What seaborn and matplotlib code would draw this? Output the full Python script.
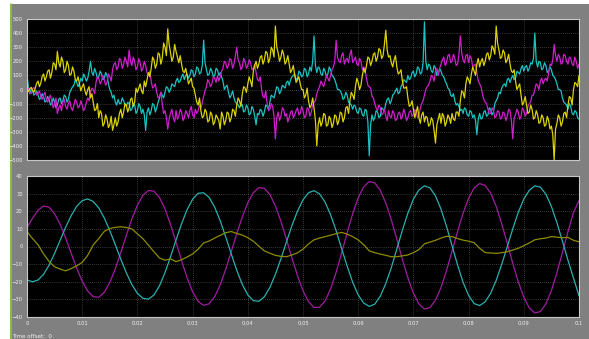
import matplotlib
matplotlib.use("Agg")
import matplotlib.pyplot as plt
import numpy as np
import pandas as pd
import seaborn as sns

# --- data ---
# top panel: noisy phase signals, one value every 0.5 ms (0 .. 0.1 s)
top_yellow = [
    0, 5, -5, 10, 60, 45, 110, 90, 140, 120,
    180, 270, 160, 200, 140, 170, 110, 130, 60, 40,
    20, -10, 0, -60, -90, -140, -200, -170, -240, -210,
    -250, -290, -200, -230, -140, -160, -110, -130, -60, -90,
    -20, 40, -30, 20, 120, 150, 210, 180, 250, 220,
    300, 430, 260, 230, 270, 190, 180, 120, 100, 60,
    20, -40, -110, -150, -190, -160, -220, -180, -230, -200,
    -280, -190, -220, -170, -200, -150, -110, -80, -30, 10,
    40, 60, 130, 200, 180, 240, 210, 260, 220, 280,
    450, 260, 230, 250, 200, 180, 140, 100, 70, 40,
    0, -40, -80, -110, -130, -400, -200, -230, -180, -250,
    -210, -240, -190, -220, -170, -200, -120, -80, -40, 20,
    50, 30, 150, 170, 220, 200, 260, 230, 280, 240,
    420, 230, 190, 210, 160, 120, 60, 10, -60, -110,
    -140, -160, -200, -180, -230, -200, -250, -220, -380, -210,
    -240, -190, -230, -200, -170, -220, -160, -80, -20, 40,
    70, 110, 130, 180, 160, 220, 200, 260, 240, 290,
    450, 280, 230, 260, 210, 180, 120, 60, 20, -40,
    -90, -110, -160, -140, -200, -180, -230, -200, -250, -220,
    -260, -500, -240, -200, -230, -160, -110, -60, 0, 40,
    100,
]
top_magenta = [
    0, -20, 5, -10, -30, -50, -40, -70, -60, -90,
    -100, -170, -110, -90, -120, -100, -130, -110, -90, -120,
    -110, -130, -60, -20, 0, 50, 80, 60, 70, 50,
    90, 140, 190, 160, 210, 180, 200, 280, 170, 200,
    160, 190, 150, 170, 100, 60, 20, -20, -50, -100,
    -150, -280, -170, -200, -150, -190, -160, -200, -170, -150,
    -180, -140, -150, -130, -50, 20, 50, 40, 80, 100,
    90, 150, 190, 170, 210, 180, 300, 190, 160, 200,
    170, 190, 150, 120, 60, 0, -60, -100, -140, -120,
    -350, -160, -190, -140, -170, -200, -150, -180, -130, -170,
    -150, -190, -140, -160, -90, -30, 20, 40, 60, 80,
    100, 160, 350, 200, 240, 180, 220, 250, 190, 230,
    170, 200, 160, 80, 20, -50, -100, -150, -130, -170,
    -190, -150, -200, -170, -210, -160, -190, -170, -200, -150,
    -180, -160, -190, -100, -40, 20, 60, 90, 130, 100,
    180, 230, 190, 250, 200, 220, 180, 380, 210, 240,
    190, 220, 170, 120, 40, -30, -90, -140, -170, -150,
    -190, -160, -200, -170, -190, -150, -350, -180, -160, -190,
    -150, -170, -100, -40, 0, 30, 60, 40, 80, 120,
    170, 320, 200, 230, 190, 240, 180, 220, 170, 200,
    180,
]
top_cyan = [
    100, -30, -10, -30, -40, -60, -50, -80, -70, -100,
    -90, -110, -60, -80, -50, -70, 0, 30, 50, 40,
    60, 90, 80, 200, 100, 120, 90, 110, 80, 100,
    0, -60, -90, -70, -100, -80, -120, -100, -140, -110,
    -150, -120, -140, -290, -130, -150, -110, -130, -60, -40,
    -20, 10, 0, 30, 60, 50, 90, 70, 110, 100,
    130, 110, 150, 120, 350, 140, 110, 130, 100, 140,
    120, 60, 20, -20, -40, -60, -100, -130, -110, -150,
    -130, -170, -140, -250, -180, -150, -160, -120, -90, -50,
    -20, 10, -10, 20, 50, 30, 90, 110, 80, 120,
    100, 140, 110, 130, 380, 120, 150, 100, 130, 110,
    140, 90, 40, 0, -30, -60, -40, -100, -140, -120,
    -170, -140, -190, -150, -470, -180, -200, -160, -190, -140,
    -100, -60, -80, -30, 10, -20, 40, 60, 100, 80,
    130, 110, 150, 120, 480, 140, 170, 120, 150, 110,
    130, 90, 40, 0, -50, -80, -100, -150, -170, -140,
    -190, -160, -180, -320, -170, -200, -150, -180, -140, -160,
    -80, -20, 10, 40, 70, 50, 100, 80, 120, 150,
    130, 170, 150, 180, 400, 160, 190, 150, 170, 130,
    140, 90, 40, 0, -60, -100, -140, -120, -180, -160,
    -210,
]

# samples half way between the ones above (0.25 ms, 0.75 ms, ...)
top_yellow_mid = [
    -15, 15, -20, 45, 20, 95, 60, 130, 80, 190,
    140, 190, 230, 120, 200, 100, 160, 70, 90, -10,
    40, -40, 20, -30, -150, -100, -150, -260, -180, -270,
    -190, -250, -260, -170, -200, -100, -160, -70, -120, 10,
    10, -10, 60, 70, 90, 230, 150, 260, 180, 330,
    240, 320, 200, 320, 230, 240, 130, 150, 40, 80,
    10, -90, -60, -200, -140, -230, -160, -250, -180, -220,
    -160, -250, -160, -230, -140, -190, -60, -120, 20, -20,
    90, 20, 170, 150, 230, 180, 270, 190, 300, 230,
    300, 200, 280, 180, 240, 120, 170, 50, 90, 0,
    -60, 10, -130, -60, -220, -250, -260, -170, -260, -190,
    -270, -180, -250, -160, -230, -130, -170, -20, -70, 80,
    0, 100, 120, 230, 170, 250, 200, 290, 220, 320,
    280, 240, 160, 240, 110, 140, 10, 20, -120, -80,
    -200, -120, -240, -160, -190, -260, -200, -290, -250, -170,
    -170, -260, -180, -240, -210, -160, -190, -10, -60, 90,
    40, 160, 100, 220, 200, 170, 250, 210, 310, 250,
    330, 220, 280, 190, 250, 130, 140, 0, 40, -110,
    -50, -170, -110, -210, -150, -240, -180, -260, -190, -280,
    -320, -280, -180, -260, -170, -200, -50, -110, 50, 20,
]
top_magenta_mid = [
    10, -30, 15, -40, -10, -70, -20, -90, -40, -130,
    -60, -130, -150, -70, -140, -80, -150, -70, -130, -80,
    -150, -90, -80, 10, -30, 90, 40, 100, 30, 110,
    60, 180, 140, 220, 150, 230, 160, 200, 230, 140,
    220, 130, 200, 120, 130, 10, 40, -60, -20, -170,
    -200, -210, -140, -230, -210, -140, -220, -150, -200, -120,
    -200, -170, -110, -90, -10, 70, 20, 90, 50, 60,
    130, 200, 150, 220, 150, 240, 210, 140, 220, 150,
    210, 140, 180, 70, 90, -50, -10, -150, -100, -190,
    -200, -220, -130, -190, -230, -160, -200, -150, -180, -120,
    -200, -130, -190, -110, -80, 0, 60, 20, 100, 60,
    140, 200, 230, 190, 260, 210, 190, 280, 210, 180,
    220, 140, 140, 30, 10, -60, -130, -110, -180, -140,
    -220, -190, -150, -220, -170, -210, -140, -220, -160, -190,
    -140, -200, -130, -80, 0, 30, 100, 60, 150, 150,
    210, 170, 240, 190, 250, 170, 250, 260, 190, 250,
    240, 160, 180, 60, 20, -70, -100, -170, -130, -200,
    -150, -210, -160, -220, -140, -220, -200, -140, -210, -130,
    -190, -120, -90, -40, 40, 0, 80, 70, 60, 180,
    210, 240, 250, 180, 250, 200, 230, 180, 230, 150,
]
top_cyan_mid = [
    20, 0, -40, -10, -70, -30, -90, -50, -110, -60,
    -130, -70, -100, -40, -90, -20, 20, 70, 20, 80,
    110, 60, 130, 120, 150, 80, 130, 70, 120, 40,
    -20, -40, -110, -100, -60, -110, -90, -150, -100, -170,
    -100, -170, -180, -160, -180, -100, -160, -90, -20, -60,
    20, -20, 40, 20, 80, 60, 110, 100, 80, 140,
    90, 160, 110, 170, 190, 100, 150, 90, 150, 100,
    90, 0, 30, -60, -10, -90, -110, -100, -160, -110,
    -180, -120, -190, -170, -140, -190, -110, -140, -40, -60,
    20, -30, 30, 10, 60, 70, 100, 70, 130, 90,
    150, 90, 160, 200, 170, 160, 110, 150, 90, 160,
    100, 70, 0, -10, -70, -20, -90, -110, -110, -160,
    -130, -180, -140, -230, -250, -220, -150, -200, -130, -150,
    -70, -100, -40, -10, -30, 20, 70, 50, 70, 120,
    90, 160, 110, 190, 200, 180, 130, 170, 100, 150,
    100, 60, 10, -40, -30, -110, -120, -140, -130, -180,
    -150, -200, -220, -210, -210, -160, -190, -130, -180, -100,
    -60, -30, 30, 20, 80, 80, 70, 130, 110, 170,
    160, 130, 190, 220, 200, 200, 140, 190, 120, 160,
    100, 70, 0, -10, -90, -110, -100, -170, -150, -200,
]

# bottom panel: filtered signals, one value every 1 ms (0 .. 0.1 s)
bot_magenta = [
    10.7, 16.0, 20.5, 23.0, 22.3, 18.6, 12.6, 4.8, -3.8, -12.3,
    -19.7, -25.3, -28.5, -28.8, -26.0, -20.4, -12.6, -3.4, 6.4, 15.6,
    23.4, 29.0, 31.8, 31.4, 27.8, 21.3, 12.5, 2.4, -8.0, -17.7,
    -25.7, -31.1, -33.4, -32.5, -28.5, -21.8, -12.9, -3.0, 7.3, 16.8,
    24.8, 30.5, 33.4, 33.0, 29.5, 23.0, 14.3, 4.1, -6.5, -16.5,
    -25.1, -31.3, -34.6, -34.5, -30.9, -24.1, -14.7, -3.6, 7.8, 18.6,
    27.6, 33.9, 36.8, 36.1, 31.9, 24.7, 15.1, 4.1, -7.2, -17.8,
    -26.5, -32.6, -35.5, -34.7, -30.5, -23.3, -13.6, -2.7, 8.5, 18.9,
    27.4, 33.2, 35.7, 34.7, 30.2, 22.8, 12.9, 1.8, -9.5, -20.1,
    -28.8, -34.9, -37.7, -36.9, -32.6, -25.0, -14.9, -3.4, 8.4, 19.3,
    26.0,
]
bot_cyan = [
    -19.0, -20.0, -19.0, -15.8, -10.6, -3.9, 3.5, 10.9, 17.5, 22.8,
    26.0, 27.0, 25.5, 21.9, 16.2, 9.0, 1.0, -7.3, -15.0, -21.6,
    -26.6, -29.4, -29.9, -27.5, -22.3, -14.8, -5.9, 3.7, 12.9, 20.9,
    26.8, 30.2, 30.5, 27.8, 22.3, 14.6, 5.5, -4.2, -13.5, -21.5,
    -27.5, -30.7, -31.1, -28.5, -23.2, -15.8, -7.0, 2.6, 11.9, 20.0,
    26.5, 30.5, 31.7, 29.8, 25.2, 18.0, 9.0, -1.2, -11.2, -20.3,
    -27.5, -32.1, -34.0, -32.7, -28.2, -21.0, -12.0, -1.4, 9.2, 18.9,
    26.9, 32.1, 34.4, 33.3, 28.7, 21.2, 11.4, 0.5, -10.5, -20.3,
    -27.8, -32.4, -33.5, -31.4, -26.5, -19.2, -10.1, -0.1, 10.0, 19.4,
    26.9, 31.9, 34.4, 33.7, 29.7, 22.7, 13.5, 3.0, -7.8, -17.9,
    -28.0,
]
bot_yellow = [
    8.4, 4.5, 1.0, -4.2, -8.5, -11.5, -12.8, -13.8, -12.5, -11.0,
    -9.0, -5.0, 0.9, 4.5, 8.6, 10.2, 10.9, 11.2, 10.8, 10.0,
    7.2, 4.4, 0.8, -3.0, -6.5, -7.8, -7.0, -8.6, -7.5, -6.0,
    -4.2, -1.5, 2.0, 3.1, 4.8, 6.3, 7.8, 8.5, 7.4, 6.5,
    5.0, 3.0, 0.2, -2.5, -3.8, -5.0, -5.6, -5.8, -4.8, -3.6,
    -1.5, 1.5, 3.8, 4.8, 5.6, 6.4, 7.3, 8.0, 7.0, 5.6,
    3.7, 1.0, -2.5, -3.5, -4.3, -5.0, -5.8, -5.8, -5.3, -4.8,
    -3.5, -1.8, 1.5, 2.5, 3.5, 4.8, 5.8, 5.6, 4.5, 3.6,
    3.0, 2.2, -1.0, -3.4, -3.7, -3.9, -3.5, -3.0, -2.0, -1.0,
    0.5, 2.0, 3.8, 4.4, 4.8, 5.6, 5.3, 5.0, 5.2, 3.5,
    2.7,
]

top_time = np.linspace(0, 0.1, len(top_yellow))
mid_time = top_time[:-1] + 0.00025
bot_time = np.linspace(0, 0.1, len(bot_yellow))

# merge the two sample sets of the top traces into one time-ordered table
top_df = pd.concat([
    pd.DataFrame({"t": top_time, "yellow": top_yellow,
                  "magenta": top_magenta, "cyan": top_cyan}),
    pd.DataFrame({"t": mid_time, "yellow": top_yellow_mid,
                  "magenta": top_magenta_mid, "cyan": top_cyan_mid}),
]).sort_values("t").reset_index(drop=True)
bot_df = pd.DataFrame({"t": bot_time, "yellow": bot_yellow,
                       "magenta": bot_magenta, "cyan": bot_cyan})

# --- style: Simulink scope look ---
sns.set_style("dark")
plt.rcParams["font.family"] = ["DejaVu Sans"]

BG = "#808080"
FRAME = "#c8c8c8"
GRID = "#6e6e6e"

# gray scope window; white strips on top and left are drawn over it
fig = plt.figure(figsize=(5.89, 3.39), dpi=100, facecolor=BG)
fig.patches.append(plt.Rectangle((0, 1 - 4 / 339), 1, 4 / 339, transform=fig.transFigure,
                                 facecolor="white", edgecolor="none", zorder=-5))
fig.patches.append(plt.Rectangle((0, 0), 10 / 589, 1, transform=fig.transFigure,
                                 facecolor="white", edgecolor="none", zorder=-5))
fig.lines.append(plt.Line2D([10.5 / 589, 10.5 / 589], [0, 1 - 4 / 339], transform=fig.transFigure,
                            color="#8cc63f", lw=1.2, zorder=-4))

ax_top = fig.add_axes([27 / 589, 1 - 160 / 339, 552 / 589, 141 / 339])
ax_bot = fig.add_axes([27 / 589, 1 - 317 / 339, 552 / 589, 141 / 339])

top_colors = {"yellow": "#dcd400", "magenta": "#d01ed0", "cyan": "#18c4c4"}
bot_colors = {"yellow": "#8e8c00", "magenta": "#a01ca0", "cyan": "#2ab0b0"}

for name in ["cyan", "magenta", "yellow"]:
    sns.lineplot(data=top_df, x="t", y=name, ax=ax_top, color=top_colors[name], lw=0.9)
for name in ["magenta", "cyan", "yellow"]:
    sns.lineplot(data=bot_df, x="t", y=name, ax=ax_bot, color=bot_colors[name], lw=0.9)

ax_top.set_ylim(-500, 500)
ax_top.set_yticks(np.arange(-500, 501, 100))
ax_bot.set_ylim(-40, 40)
ax_bot.set_yticks(np.arange(-40, 41, 10))

xticks = np.arange(0, 0.1001, 0.01)
for ax in (ax_top, ax_bot):
    ax.set_xlim(0, 0.1)
    ax.set_xticks(xticks)
    ax.set_facecolor("black")
    ax.set_xlabel("")
    ax.set_ylabel("")
    ax.grid(True, color=GRID, linestyle=(0, (1, 2)), lw=0.5)
    for sp in ax.spines.values():
        sp.set_visible(True)
        sp.set_color(FRAME)
        sp.set_linewidth(0.8)
    ax.tick_params(axis="both", colors=FRAME, labelcolor="#f0f0f0", labelsize=3.8,
                   length=2, width=0.6, pad=1, direction="out")

ax_top.set_xticklabels([])
ax_bot.set_xticklabels(["0"] + ["%g" % v for v in np.round(xticks[1:], 2)])

fig.text(12 / 589, 1 - 336 / 339, "Time offset:  0", fontsize=4, color="#f0f0f0", va="center")

fig.savefig("out.png", dpi=100, facecolor=fig.get_facecolor())
